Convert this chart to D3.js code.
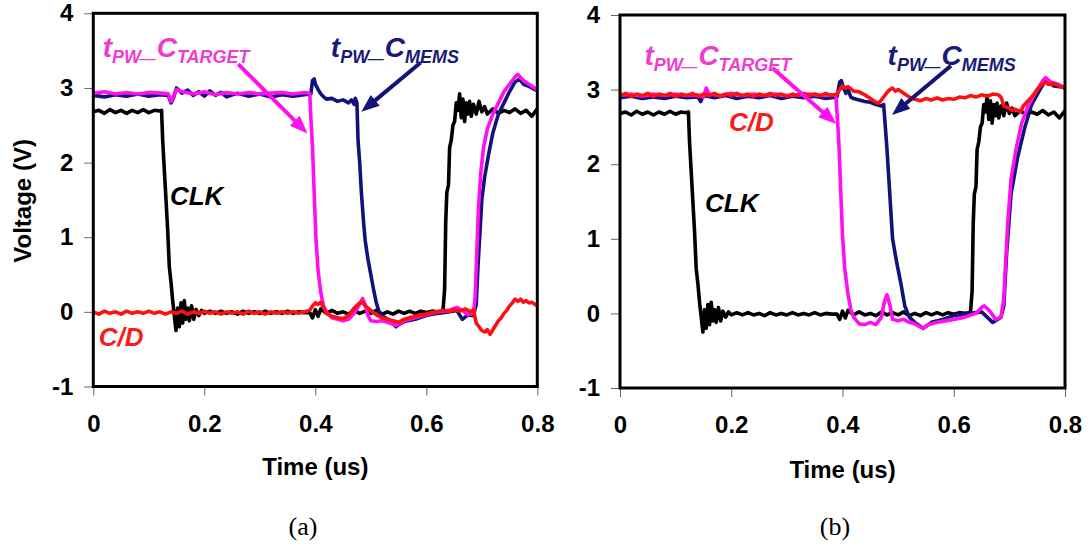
<!DOCTYPE html>
<html><head><meta charset="utf-8">
<script src="https://d3js.org/d3.v7.min.js"></script>
<style>body{margin:0;background:#fff}</style>
</head><body>
<svg id="c" width="1089" height="548"></svg>
<script>
// ---------- data ----------
const xTicks = [0, 0.2, 0.4, 0.6, 0.8];
const yTicks = [-1, 0, 1, 2, 3, 4];
const xTickLabels = ["0", "0.2", "0.4", "0.6", "0.8"];
const yTickLabels = ["-1", "0", "1", "2", "3", "4"];
const xTitle = "Time (us)";
const yTitle = "Voltage (V)";
const panelNames = ["(a)", "(b)"];

// CLK (same clock in both panels)
const clk = [[0,2.68],[0.01,2.70],[0.02,2.66],[0.03,2.71],[0.04,2.67],[0.05,2.70],[0.06,2.66],[0.07,2.70],[0.08,2.67],[0.09,2.71],[0.10,2.67],[0.11,2.70],[0.12,2.69],[0.123,2.70],[0.125,2.3],[0.128,1.9],[0.131,1.5],[0.134,1.1],[0.137,0.6],[0.14,0.4],[0.143,0.15],[0.146,-0.05],[0.149,-0.25],[0.152,0.05],[0.155,-0.2],[0.158,0.12],[0.161,-0.15],[0.164,0.15],[0.167,-0.1],[0.17,0.05],[0.173,-0.12],[0.177,0.08],[0.181,-0.1],[0.185,0.03],[0.19,-0.05],[0.195,0.02],[0.2,-0.02],[0.21,0.01],[0.22,-0.02],[0.23,0.01],[0.24,-0.02],[0.25,0.0],[0.26,-0.03],[0.27,0.01],[0.28,-0.02],[0.29,0.0],[0.30,-0.02],[0.31,0.01],[0.32,-0.02],[0.33,0.0],[0.34,-0.02],[0.35,0.01],[0.36,-0.02],[0.37,0.0],[0.38,-0.01],[0.39,-0.01],[0.395,-0.08],[0.40,0.03],[0.405,-0.06],[0.41,0.04],[0.42,-0.02],[0.43,0.02],[0.44,-0.02],[0.45,0.0],[0.46,-0.03],[0.47,0.02],[0.48,-0.02],[0.49,0.01],[0.50,-0.02],[0.51,0.02],[0.52,-0.03],[0.53,0.0],[0.54,-0.03],[0.55,0.01],[0.56,-0.02],[0.57,0.01],[0.58,-0.02],[0.59,0.01],[0.60,-0.01],[0.61,0.01],[0.62,0.0],[0.63,0.01],[0.633,0.3],[0.635,1.2],[0.637,1.6],[0.64,1.7],[0.642,2.2],[0.645,2.3],[0.648,2.5],[0.651,2.55],[0.654,2.8],[0.657,2.7],[0.66,2.92],[0.663,2.6],[0.666,2.85],[0.669,2.55],[0.672,2.8],[0.675,2.65],[0.678,2.82],[0.681,2.62],[0.685,2.78],[0.69,2.65],[0.695,2.82],[0.70,2.68],[0.705,2.75],[0.71,2.65],[0.72,2.72],[0.73,2.66],[0.74,2.70],[0.75,2.67],[0.76,2.72],[0.77,2.66],[0.78,2.70],[0.79,2.62],[0.80,2.72]];

// panel (a)
const targetA = [[0,2.93],[0.02,2.95],[0.04,2.92],[0.06,2.94],[0.08,2.92],[0.10,2.94],[0.12,2.93],[0.135,2.92],[0.14,2.82],[0.145,2.90],[0.15,2.98],[0.16,2.95],[0.18,2.92],[0.20,2.95],[0.22,2.91],[0.24,2.94],[0.26,2.92],[0.28,2.94],[0.30,2.92],[0.32,2.93],[0.34,2.94],[0.36,2.92],[0.38,2.94],[0.39,2.93],[0.392,2.6],[0.395,2.2],[0.398,1.6],[0.401,1.0],[0.405,0.55],[0.41,0.25],[0.415,0.08],[0.42,0.0],[0.43,-0.08],[0.44,-0.1],[0.45,-0.12],[0.46,-0.1],[0.47,-0.02],[0.48,0.1],[0.485,0.18],[0.49,0.1],[0.495,-0.05],[0.50,-0.12],[0.51,-0.13],[0.52,-0.12],[0.53,-0.14],[0.545,-0.18],[0.56,-0.12],[0.58,-0.08],[0.60,-0.04],[0.62,0.0],[0.64,0.02],[0.655,0.06],[0.665,0.02],[0.675,-0.04],[0.685,-0.02],[0.688,0.2],[0.691,0.8],[0.694,1.4],[0.698,1.85],[0.703,2.2],[0.71,2.45],[0.72,2.65],[0.73,2.8],[0.74,2.95],[0.75,3.05],[0.76,3.15],[0.765,3.18],[0.775,3.1],[0.785,3.05],[0.795,3.0],[0.80,2.97]];
const memsA = [[0,2.90],[0.02,2.88],[0.04,2.91],[0.06,2.89],[0.08,2.92],[0.10,2.89],[0.12,2.91],[0.135,2.90],[0.14,2.80],[0.145,2.88],[0.15,3.0],[0.16,2.93],[0.17,2.97],[0.18,2.90],[0.19,2.95],[0.20,2.89],[0.21,2.96],[0.22,2.90],[0.23,2.94],[0.24,2.88],[0.26,2.93],[0.28,2.89],[0.30,2.92],[0.32,2.88],[0.34,2.91],[0.36,2.89],[0.38,2.91],[0.392,2.92],[0.395,3.1],[0.398,3.12],[0.40,3.05],[0.405,2.98],[0.41,2.92],[0.415,2.88],[0.42,2.85],[0.43,2.86],[0.44,2.82],[0.45,2.84],[0.46,2.80],[0.465,2.84],[0.47,2.78],[0.472,2.86],[0.475,2.8],[0.477,2.3],[0.48,2.0],[0.483,1.6],[0.487,1.2],[0.49,0.95],[0.495,0.7],[0.50,0.5],[0.505,0.3],[0.51,0.12],[0.515,0.0],[0.52,-0.05],[0.53,-0.1],[0.54,-0.15],[0.545,-0.2],[0.55,-0.17],[0.56,-0.13],[0.58,-0.1],[0.60,-0.05],[0.62,-0.02],[0.64,0.0],[0.655,0.02],[0.665,-0.1],[0.675,-0.04],[0.685,-0.05],[0.69,0.1],[0.693,0.6],[0.697,1.1],[0.70,1.5],[0.705,1.8],[0.712,2.1],[0.72,2.4],[0.73,2.65],[0.74,2.8],[0.75,2.95],[0.76,3.08],[0.768,3.12],[0.775,3.05],[0.785,3.02],[0.795,2.98],[0.80,2.97]];
const cdA = [[0,0.0],[0.01,-0.03],[0.02,0.01],[0.03,-0.02],[0.04,0.0],[0.05,-0.03],[0.06,0.01],[0.07,-0.02],[0.08,0.0],[0.09,-0.02],[0.10,0.01],[0.11,-0.02],[0.12,0.0],[0.13,-0.03],[0.14,0.0],[0.15,-0.02],[0.16,0.01],[0.17,-0.03],[0.18,0.0],[0.19,-0.02],[0.20,0.01],[0.21,-0.02],[0.22,0.0],[0.23,-0.03],[0.24,0.0],[0.25,-0.02],[0.26,0.0],[0.27,-0.03],[0.28,0.01],[0.29,-0.02],[0.30,0.0],[0.31,-0.03],[0.32,0.0],[0.33,-0.02],[0.34,0.0],[0.35,-0.02],[0.36,0.0],[0.37,-0.02],[0.38,0.0],[0.39,0.02],[0.395,0.08],[0.40,0.12],[0.405,0.10],[0.41,0.13],[0.415,0.05],[0.42,-0.02],[0.43,-0.06],[0.44,-0.08],[0.45,-0.09],[0.46,-0.05],[0.47,0.05],[0.48,0.12],[0.485,0.13],[0.49,0.08],[0.50,0.02],[0.51,-0.04],[0.52,-0.08],[0.53,-0.1],[0.54,-0.12],[0.55,-0.14],[0.56,-0.1],[0.57,-0.08],[0.58,-0.06],[0.59,-0.04],[0.60,-0.03],[0.61,-0.01],[0.62,0.0],[0.63,0.02],[0.64,0.0],[0.65,0.03],[0.66,0.01],[0.67,0.04],[0.68,0.0],[0.685,0.03],[0.69,-0.15],[0.695,-0.2],[0.70,-0.25],[0.705,-0.27],[0.71,-0.24],[0.715,-0.3],[0.72,-0.24],[0.725,-0.18],[0.73,-0.12],[0.735,-0.08],[0.74,-0.02],[0.745,0.02],[0.75,0.08],[0.755,0.12],[0.76,0.17],[0.765,0.14],[0.77,0.17],[0.775,0.13],[0.78,0.15],[0.785,0.12],[0.79,0.13],[0.80,0.08]];

// panel (b)
const targetB = [[0,2.92],[0.02,2.94],[0.04,2.91],[0.06,2.94],[0.08,2.92],[0.10,2.94],[0.12,2.92],[0.14,2.93],[0.15,2.9],[0.155,3.02],[0.16,2.94],[0.18,2.92],[0.20,2.95],[0.22,2.92],[0.24,2.94],[0.26,2.92],[0.28,2.94],[0.30,2.92],[0.32,2.93],[0.34,2.94],[0.36,2.92],[0.38,2.93],[0.388,2.93],[0.391,2.6],[0.394,2.2],[0.397,1.6],[0.40,1.05],[0.404,0.6],[0.41,0.25],[0.415,0.05],[0.42,-0.05],[0.43,-0.14],[0.44,-0.15],[0.45,-0.12],[0.46,-0.15],[0.47,-0.05],[0.475,0.15],[0.48,0.25],[0.485,0.12],[0.49,-0.08],[0.50,-0.1],[0.51,-0.08],[0.52,-0.12],[0.53,-0.14],[0.545,-0.2],[0.555,-0.15],[0.57,-0.12],[0.585,-0.1],[0.60,-0.08],[0.62,-0.05],[0.64,0.0],[0.65,0.08],[0.655,0.1],[0.665,0.03],[0.675,-0.08],[0.685,-0.05],[0.69,0.2],[0.692,0.5],[0.697,1.2],[0.703,1.8],[0.712,2.2],[0.722,2.55],[0.735,2.8],[0.75,3.0],[0.76,3.12],[0.765,3.16],[0.775,3.1],[0.785,3.08],[0.795,3.04],[0.80,3.05]];
const memsB = [[0,2.89],[0.02,2.91],[0.04,2.88],[0.06,2.90],[0.08,2.88],[0.10,2.91],[0.12,2.89],[0.14,2.90],[0.145,2.84],[0.15,2.92],[0.17,2.89],[0.19,2.92],[0.21,2.88],[0.23,2.91],[0.25,2.89],[0.27,2.92],[0.29,2.88],[0.31,2.91],[0.33,2.89],[0.35,2.91],[0.37,2.88],[0.39,2.9],[0.395,3.1],[0.398,3.12],[0.402,3.02],[0.406,2.95],[0.41,3.0],[0.415,2.9],[0.42,2.88],[0.43,2.86],[0.44,2.84],[0.45,2.83],[0.46,2.8],[0.47,2.78],[0.474,2.8],[0.477,2.5],[0.48,2.2],[0.485,1.6],[0.49,1.0],[0.497,0.7],[0.505,0.4],[0.512,0.1],[0.52,-0.05],[0.53,-0.12],[0.545,-0.2],[0.56,-0.12],[0.58,-0.08],[0.60,-0.03],[0.63,0.0],[0.65,0.02],[0.67,-0.12],[0.685,-0.05],[0.69,0.1],[0.695,0.8],[0.703,1.6],[0.715,2.1],[0.728,2.5],[0.74,2.8],[0.755,3.0],[0.765,3.12],[0.78,3.05],[0.79,3.04],[0.80,3.02]];
const cdB = [[0,2.92],[0.01,2.95],[0.02,2.91],[0.03,2.94],[0.04,2.92],[0.05,2.95],[0.06,2.91],[0.07,2.94],[0.08,2.92],[0.09,2.95],[0.10,2.91],[0.11,2.94],[0.12,2.92],[0.13,2.95],[0.14,2.91],[0.15,2.94],[0.16,2.92],[0.17,2.95],[0.18,2.91],[0.19,2.94],[0.20,2.92],[0.21,2.95],[0.22,2.92],[0.23,2.94],[0.24,2.91],[0.25,2.94],[0.26,2.92],[0.27,2.95],[0.28,2.92],[0.29,2.94],[0.30,2.91],[0.31,2.94],[0.32,2.92],[0.33,2.95],[0.34,2.92],[0.35,2.94],[0.36,2.92],[0.37,2.95],[0.38,2.92],[0.39,2.94],[0.395,3.0],[0.40,3.05],[0.405,3.02],[0.41,3.04],[0.42,2.98],[0.43,2.97],[0.44,2.93],[0.45,2.88],[0.46,2.83],[0.465,2.82],[0.47,2.86],[0.48,2.96],[0.485,3.0],[0.49,3.02],[0.495,2.98],[0.50,3.0],[0.51,2.95],[0.52,2.9],[0.53,2.87],[0.54,2.85],[0.55,2.88],[0.56,2.86],[0.57,2.89],[0.58,2.86],[0.59,2.88],[0.60,2.87],[0.61,2.9],[0.62,2.89],[0.63,2.92],[0.64,2.9],[0.65,2.93],[0.66,2.91],[0.67,2.94],[0.68,2.93],[0.685,2.9],[0.69,2.78],[0.70,2.75],[0.705,2.72],[0.71,2.74],[0.72,2.7],[0.725,2.78],[0.73,2.82],[0.74,2.9],[0.75,3.0],[0.76,3.08],[0.765,3.1],[0.77,3.07],[0.78,3.08],[0.79,3.05],[0.80,3.02]];

// annotation anchors (data coordinates)
const labelPosA = {target:[0.017,3.41], mems:[0.428,3.41], clk:[0.138,1.43], cd:[0.010,-0.455]};
const labelPosB = {target:[0.044,3.33], mems:[0.481,3.33], clk:[0.153,1.36], cd:[0.196,2.45]};
const arrowsA = [{from:[0.261,3.32], to:[0.386,2.39], c:"target"}, {from:[0.590,3.34], to:[0.483,2.68], c:"mems"}];
const arrowsB = [{from:[0.274,3.29], to:[0.389,2.54], c:"target"}, {from:[0.595,3.32], to:[0.489,2.66], c:"mems"}];

// ---------- style / layout ----------
const colors = {clk:"#000000", mems:"#12127a", target:"#ff10f0", cd:"#ff1010"};
const labelColors = {clk:"#000000", mems:"#1a1a78", target:"#ee3ccf", cd:"#ff1a1a"};
const FONT = "Arial, 'Liberation Sans', sans-serif";

const panels = [
  {x0:93.3, x1:537.3, yTop:13.3, yBot:386.5, series:[["clk",clk],["mems",memsA],["target",targetA],["cd",cdA]], labels:labelPosA, arrows:arrowsA, yTitle:true, xTitleY:475, nameX:303, name:panelNames[0]},
  {x0:620, x1:1065, yTop:15, yBot:388, series:[["clk",clk],["mems",memsB],["target",targetB],["cd",cdB]], labels:labelPosB, arrows:arrowsB, yTitle:false, xTitleY:478, nameX:835, name:panelNames[1]}
];

const svg = d3.select("#c");
svg.append("rect").attr("width",1089).attr("height",548).attr("fill","#fff");

function addSubLabel(g, x, y, sub, color) {
  const t = g.append("text").attr("x", x).attr("y", y)
    .attr("font-family", FONT).attr("font-weight","bold").attr("font-style","italic")
    .attr("fill", color);
  t.append("tspan").attr("font-size",28).text("t");
  t.append("tspan").attr("font-size",18).attr("dy",6).text("PW");
  t.append("tspan").attr("font-size",28).attr("dy",-6).text("_");
  t.append("tspan").attr("font-size",28).text("C");
  t.append("tspan").attr("font-size",18).attr("dy",6).text(sub);
}

function arrow(g, x1, y1, x2, y2, color) {
  const dx = x2-x1, dy = y2-y1, L = Math.hypot(dx,dy), ux = dx/L, uy = dy/L;
  const head = 18, hw = 7;
  const bx = x2-ux*head, by = y2-uy*head;
  g.append("line").attr("x1",x1).attr("y1",y1).attr("x2",bx+ux*2).attr("y2",by+uy*2)
    .attr("stroke",color).attr("stroke-width",4);
  g.append("path").attr("d",`M${x2},${y2}L${bx-uy*hw},${by+ux*hw}L${bx+uy*hw},${by-ux*hw}Z`).attr("fill",color);
}

panels.forEach(p => {
  const x = d3.scaleLinear().domain([0,0.8]).range([p.x0,p.x1]);
  const y = d3.scaleLinear().domain([-1,4]).range([p.yBot,p.yTop]);
  const g = svg.append("g");

  // axes
  const ax = g.append("g").attr("transform",`translate(0,${p.yBot})`)
    .call(d3.axisBottom(x).tickValues(xTicks).tickFormat((d,i)=>xTickLabels[i]).tickSize(9).tickPadding(19));
  const ay = g.append("g").attr("transform",`translate(${p.x0},0)`)
    .call(d3.axisLeft(y).tickValues(yTicks).tickFormat((d,i)=>yTickLabels[i]).tickSize(9).tickPadding(11));
  [ax,ay].forEach(a => {
    a.select(".domain").remove();
    a.selectAll(".tick line").attr("stroke","#666").attr("stroke-width",1);
    a.selectAll(".tick text").attr("font-family",FONT).attr("font-weight","bold").attr("font-size",24).attr("fill","#000");
  });

  // series
  const line = d3.line().x(d=>x(d[0])).y(d=>y(d[1]));
  const clipId = "clip"+Math.round(p.x0);
  g.append("clipPath").attr("id",clipId).append("rect").attr("x",p.x0).attr("y",p.yTop).attr("width",p.x1-p.x0).attr("height",p.yBot-p.yTop);
  const sg = g.append("g").attr("clip-path",`url(#${clipId})`);
  p.series.forEach(([k,data]) => {
    sg.append("path").datum(data).attr("d",line).attr("fill","none")
      .attr("stroke",colors[k]).attr("stroke-width",3.6).attr("stroke-linejoin","round");
  });

  // frame
  g.append("rect").attr("x",p.x0).attr("y",p.yTop).attr("width",p.x1-p.x0).attr("height",p.yBot-p.yTop)
    .attr("fill","none").attr("stroke","#000").attr("stroke-width",3);

  // annotations
  p.arrows.forEach(a => arrow(g, x(a.from[0]), y(a.from[1]), x(a.to[0]), y(a.to[1]), colors[a.c]));
  addSubLabel(g, x(p.labels.target[0]), y(p.labels.target[1]), "TARGET", labelColors.target);
  addSubLabel(g, x(p.labels.mems[0]), y(p.labels.mems[1]), "MEMS", labelColors.mems);
  g.append("text").attr("x",x(p.labels.clk[0])).attr("y",y(p.labels.clk[1]))
    .attr("font-family",FONT).attr("font-weight","bold").attr("font-style","italic").attr("font-size",26)
    .attr("fill",labelColors.clk).text("CLK");
  g.append("text").attr("x",x(p.labels.cd[0])).attr("y",y(p.labels.cd[1]))
    .attr("font-family",FONT).attr("font-weight","bold").attr("font-style","italic").attr("font-size",26)
    .attr("fill",labelColors.cd).text("C/D");

  // titles
  g.append("text").attr("x",(p.x0+p.x1)/2).attr("y",p.xTitleY).attr("text-anchor","middle")
    .attr("font-family",FONT).attr("font-weight","bold").attr("font-size",24).text(xTitle);
  if (p.yTitle) {
    g.append("text").attr("transform",`translate(31,${(p.yTop+p.yBot)/2 + 1}) rotate(-90)`).attr("text-anchor","middle")
      .attr("font-family",FONT).attr("font-weight","bold").attr("font-size",24).text(yTitle);
  }
  g.append("text").attr("x",p.nameX).attr("y",535).attr("text-anchor","middle")
    .attr("font-family","'Liberation Serif', 'Times New Roman', serif").attr("font-size",26).text(p.name);
});
</script>
</body></html>
